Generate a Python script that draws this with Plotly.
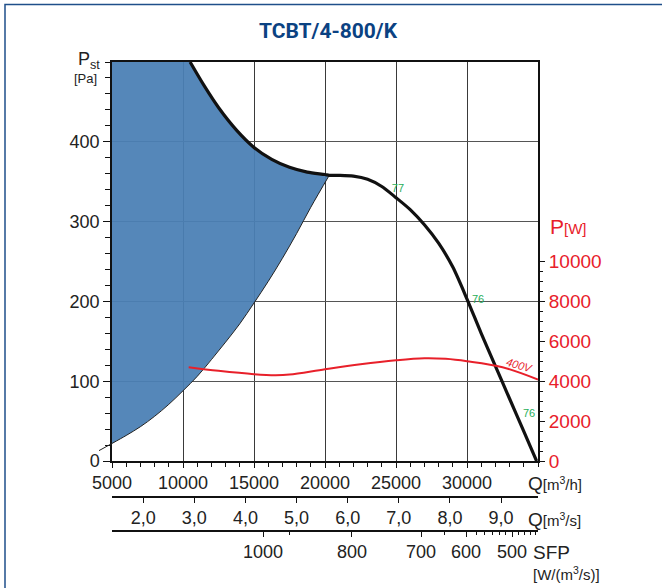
import plotly.graph_objects as go

# ---------------- data ----------------
Q_MIN, Q_MAX = 5000, 35000          # m3/h
P_MAX = 500                          # Pa

fan_q = [10500, 11500, 12500, 13750, 15000, 16250, 17500, 18750, 20000, 20300,
         21000, 22000, 23000, 24000, 25000, 26000, 27000, 28000, 29000, 30000,
         31000, 32000, 33000, 34000, 34900]
fan_p = [500, 470, 443, 415, 393, 378, 368, 362, 359, 358,
         358, 357, 353, 344, 330, 315, 296, 273, 243, 203,
         160, 119, 78, 37, 0]
FILL_END = 10  # number of fan points bordering the shaded area

sys_q = [5000, 6000, 7000, 8000, 9000, 10000, 11000, 12000, 13000, 14000,
         15000, 16000, 17000, 18000, 19000, 20300]
sys_p = [22, 32, 43, 56, 71, 88, 106, 127, 149, 172,
         198, 225, 254, 285, 318, 358]

pow_q = [10400, 12500, 15000, 16500, 17500, 20000, 22500, 25000, 27000, 28500,
         30000, 32500, 35000]
pow_w = [4700, 4520, 4350, 4300, 4330, 4600, 4850, 5050, 5150, 5120,
         5000, 4700, 4080]

eff_q = [25140, 30780, 34370]
eff_p = [340, 201, 59]
eff_txt = ["77", "76", "76"]

q_ticks = [5000, 10000, 15000, 20000, 25000, 30000]
qs_ticks = [2, 3, 4, 5, 6, 7, 8, 9]
qs_text = ["2,0", "3,0", "4,0", "5,0", "6,0", "7,0", "8,0", "9,0"]
sfp_text = ["1000", "800", "700", "600", "500"]
sfp_q = [15634, 21901, 26761, 29930, 33169]
sfp_minor_q = [17465, 28380, 30634, 31197, 31761, 32254, 32746, 33592, 34014, 34437, 34789]
p_ticks = [0, 100, 200, 300, 400]
w_ticks = [0, 2000, 4000, 6000, 8000, 10000]
w_minor = [v for v in range(500, 10000, 500) if v % 2000]

# ---------------- layout helpers ----------------
W, H = 662, 588
ML, MR, MT, MB = 112, 124, 62, 0
PW, PH = W - ML - MR, H - MT - MB
def xp(px):
    return (px - ML) / PW
def yp(py):
    return (H - MB - py) / PH

RED = "#e8202a"
GREEN = "#1fae5a"
BLUE_T = "#0b4282"
FONT = "Liberation Sans, Arial, sans-serif"

fig = go.Figure()

# shaded area
fx = [Q_MIN] + fan_q[:FILL_END] + sys_q[::-1]
fy = [P_MAX] + fan_p[:FILL_END] + sys_p[::-1]
fig.add_trace(go.Scatter(x=fx, y=fy, fill="toself", mode="lines",
                         fillcolor="rgba(74,127,181,0.94)", line=dict(width=0),
                         hoverinfo="skip", showlegend=False))
# system curve edge
fig.add_trace(go.Scatter(x=sys_q, y=sys_p, mode="lines",
                         line=dict(color="#222", width=1, shape="spline"), showlegend=False))
# fan curve
fig.add_trace(go.Scatter(x=fan_q, y=fan_p, mode="lines",
                         line=dict(color="#111", width=3.2, shape="spline", smoothing=0.8),
                         showlegend=False))
# power curve
fig.add_trace(go.Scatter(x=pow_q, y=pow_w, mode="lines", yaxis="y2",
                         line=dict(color=RED, width=2, shape="spline"),
                         showlegend=False))
# efficiency labels
fig.add_trace(go.Scatter(x=eff_q, y=eff_p, mode="text", text=eff_txt,
                         textfont=dict(color=GREEN, size=11, family=FONT),
                         cliponaxis=False, showlegend=False))
# dummy traces to register secondary x axes
fig.add_trace(go.Scatter(x=[], y=[], xaxis="x2", showlegend=False))
fig.add_trace(go.Scatter(x=[], y=[], xaxis="x3", showlegend=False))

axis_common = dict(showline=True, linecolor="#111", ticks="outside", tickcolor="#111",
                   tickfont=dict(size=18, color="#222", family=FONT), zeroline=False,
                   automargin=False)

fig.update_layout(
    width=W, height=H, margin=dict(l=ML, r=MR, t=MT, b=MB, autoexpand=False),
    paper_bgcolor="white", plot_bgcolor="white",
    font=dict(family=FONT),
    xaxis=dict(range=[Q_MIN, Q_MAX], domain=[0, 1], anchor="y", tickvals=q_ticks,
               ticktext=[str(v) for v in q_ticks],
               ticklen=5, linewidth=1.5, mirror=True,
               showgrid=True, gridcolor="#3a3a3a", gridwidth=1.3,
               minor=dict(dtick=1000, tick0=5000, ticks="outside", ticklen=4,
                          tickcolor="#111", showgrid=False),
               **axis_common),
    yaxis=dict(range=[0, P_MAX], domain=[yp(461), 1], tickvals=p_ticks,
               ticktext=[str(v) for v in p_ticks],
               ticklen=7, linewidth=1.5, mirror=True,
               showgrid=True, gridcolor="#555", gridwidth=1.3,
               minor=dict(dtick=20, ticks="outside", ticklen=5, tickcolor="#111",
                          showgrid=False),
               **axis_common),
    yaxis2=dict(range=[0, 20000], overlaying="y", side="right", anchor="x",
                tickvals=w_ticks, ticktext=[str(v) for v in w_ticks],
                ticks="outside", ticklen=6, tickcolor="#111",
                tickfont=dict(size=19, color=RED, family=FONT),
                showgrid=False, showline=False, zeroline=False, automargin=False,
                minor=dict(tickvals=w_minor, ticks="outside", ticklen=4, tickcolor="#111")),
    xaxis2=dict(range=[Q_MIN / 3600, Q_MAX / 3600], overlaying="x", anchor="free",
                position=yp(496.5), side="bottom", tickvals=qs_ticks, ticktext=qs_text,
                ticklen=5, linewidth=2, showgrid=False, **axis_common),
    xaxis3=dict(range=[Q_MIN, Q_MAX], overlaying="x", anchor="free",
                position=yp(530.5), side="bottom", tickvals=sfp_q, ticktext=sfp_text,
                ticklen=5, linewidth=2, showgrid=False,
                minor=dict(tickvals=sfp_minor_q, ticks="outside", ticklen=3, tickcolor="#111"),
                **axis_common),
)

ann = []
def add(text, x, y, size, color="#222", xanchor="left", font_extra=None, **kw):
    f = dict(size=size, color=color, family=FONT)
    if font_extra:
        f.update(font_extra)
    ann.append(dict(text=text, x=x, y=y, xref="paper", yref="paper", showarrow=False,
                    xanchor=xanchor, yanchor="middle", font=f, **kw))

add("<b>TCBT/4-800/K</b>", xp(328), yp(31.5), 21, BLUE_T, xanchor="center",
    font_extra=dict(family="Roboto, Liberation Sans, sans-serif"))
add("P<sub>st</sub>", xp(76), yp(61), 18)
add("[Pa]", xp(72), yp(78), 13)
add("P<span style='font-size:15px'>[W]</span>", xp(548), yp(226), 21, RED)
add("Q<span style='font-size:15px'>[m<sup>3</sup>/h]</span>", xp(526), yp(483), 19)
add("Q<span style='font-size:15px'>[m<sup>3</sup>/s]</span>", xp(526), yp(519), 19)
add("SFP", xp(531), yp(552), 19)
add("[W/(m<sup>3</sup>/s)]", xp(531), yp(573), 15)
add("<i>400V</i>", xp(519), yp(365), 11, RED, xanchor="center", textangle=16)
fig.update_layout(annotations=ann)

# frame and small system-curve extension
fig.update_layout(shapes=[
    dict(type="path", xref="paper", yref="paper",
         path=f"M {xp(5)} {yp(600)} L {xp(5)} {yp(4.5)} L {xp(700)} {yp(4.5)}",
         line=dict(color="#1f4f8a", width=1.5)),
    dict(type="line", xref="paper", yref="y", x0=xp(99), y0=13, x1=0, y1=sys_p[0],
         line=dict(color="#222", width=1)),
])

fig.write_html("out.html")
